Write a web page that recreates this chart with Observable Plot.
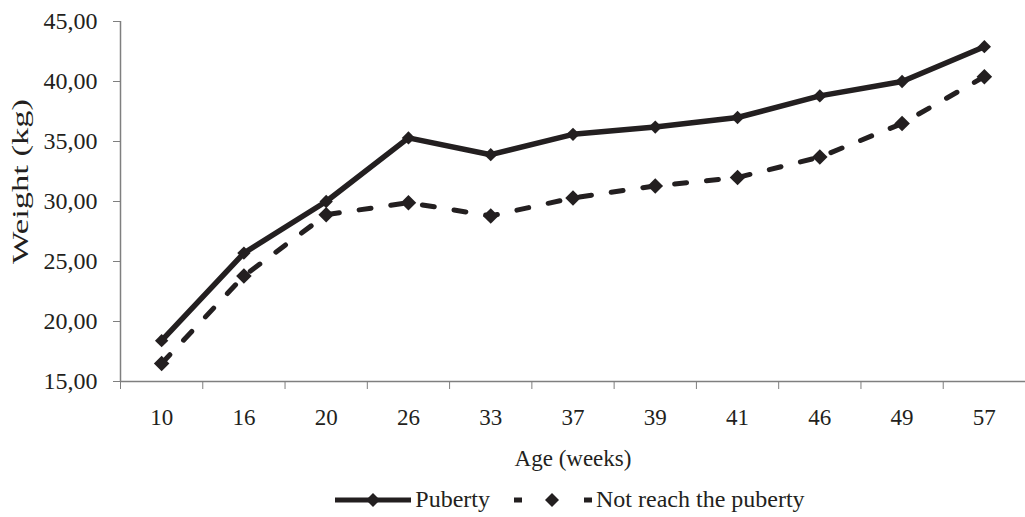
<!DOCTYPE html>
<html>
<head>
<meta charset="utf-8">
<script src="https://cdn.jsdelivr.net/npm/d3@7"></script>
<script src="https://cdn.jsdelivr.net/npm/@observablehq/plot@0.6"></script>
<style>
  body { margin: 0; background: #fff; font-family: "Liberation Serif", "DejaVu Serif", serif; }
  #legend { box-sizing: border-box; display: flex; justify-content: center; align-items: center; height: 37px; padding-top: 2px; font-size: 24px; color: #231f20; padding-left: 115px; }
  #legend .item { display: flex; align-items: center; }
  #legend .item.first { margin-right: 24px; }
  #legend svg { margin-right: 4px; }
</style>
</head>
<body>
<div id="chart"></div>
<div id="legend"></div>
<script>
const ages = ["10", "16", "20", "26", "33", "37", "39", "41", "46", "49", "57"];
const puberty = [18.4, 25.7, 30.0, 35.3, 33.9, 35.6, 36.2, 37.0, 38.8, 40.0, 42.9];
const notReach = [16.5, 23.8, 28.9, 29.9, 28.8, 30.3, 31.3, 32.0, 33.7, 36.5, 40.4];
const yTicks = [15, 20, 25, 30, 35, 40, 45];
const seriesNames = ["Puberty", "Not reach the puberty"];

const ink = "#231f20";
const axisGrey = "#7f7f7f";

const rows = [];
ages.forEach((a, i) => {
  rows.push({series: seriesNames[0], i, age: a, w: puberty[i]});
  rows.push({series: seriesNames[1], i, age: a, w: notReach[i]});
});
const solid = rows.filter(d => d.series === seriesNames[0]);
const dashed = rows.filter(d => d.series === seriesNames[1]);
const boundaries = d3.range(ages.length + 1).map(k => k - 0.5);

const chart = Plot.plot({
  width: 1025,
  height: 480,
  marginLeft: 120,
  marginRight: 0,
  marginTop: 21,
  marginBottom: 99,
  style: {fontFamily: "Liberation Serif, serif", fontSize: "23px", color: ink, background: "#fff"},
  x: {type: "linear", domain: [-0.5, ages.length - 0.5]},
  y: {domain: [15, 45]},
  marks: [
    Plot.axisY({ticks: yTicks, tickFormat: d => d.toFixed(2).replace(".", ","), tickSize: 7, tickPadding: 16, stroke: axisGrey, fontSize: 24,
      label: "Weight (kg)", labelAnchor: "center", labelArrow: "none", labelOffset: 110}),
    Plot.axisX({ticks: d3.range(ages.length), tickFormat: i => ages[i], tickSize: 0, tickPadding: 27, fontSize: 23,
      label: "Age (weeks)", labelAnchor: "center", labelArrow: "none", labelOffset: 84}),
    Plot.axisX({ticks: boundaries, tickFormat: () => "", tickSize: 8, stroke: axisGrey, label: null}),
    Plot.ruleY([15], {stroke: axisGrey, strokeWidth: 1.5}),
    Plot.ruleX([-0.5], {stroke: axisGrey, strokeWidth: 1.5}),
    Plot.line(dashed, {x: "i", y: "w", stroke: ink, strokeWidth: 5, strokeDasharray: "12,20"}),
    Plot.dot(dashed, {x: "i", y: "w", symbol: "diamond2", r: 7, fill: ink}),
    Plot.line(solid, {x: "i", y: "w", stroke: ink, strokeWidth: 5.5}),
    Plot.dot(solid, {x: "i", y: "w", symbol: "diamond2", r: 6, fill: ink})
  ]
});
document.getElementById("chart").appendChild(chart);

// The reference's vertical title is stretched along its length and sits a little above centre
const yLabel = chart.querySelector('[aria-label="y-axis label"] text');
if (yLabel) {
  yLabel.setAttribute("textLength", "165");
  yLabel.setAttribute("lengthAdjust", "spacingAndGlyphs");
  yLabel.setAttribute("dx", "20");
}

// Legend
const legend = document.getElementById("legend");
function swatch(dash) {
  const ns = "http://www.w3.org/2000/svg";
  const svg = document.createElementNS(ns, "svg");
  const w = dash ? 78 : 76;
  svg.setAttribute("width", w);
  svg.setAttribute("height", 16);
  const line = document.createElementNS(ns, "line");
  line.setAttribute("x1", 0); line.setAttribute("x2", w);
  line.setAttribute("y1", 8); line.setAttribute("y2", 8);
  line.setAttribute("stroke", ink); line.setAttribute("stroke-width", 5);
  if (dash) line.setAttribute("stroke-dasharray", "8,62,8");
  svg.appendChild(line);
  const d = document.createElementNS(ns, "path");
  const c = 38;
  d.setAttribute("d", `M${c},1 L${c + 7},8 L${c},15 L${c - 7},8 Z`);
  d.setAttribute("fill", ink);
  svg.appendChild(d);
  return svg;
}
seriesNames.forEach((name, k) => {
  const item = document.createElement("div");
  item.className = "item" + (k === 0 ? " first" : "");
  item.appendChild(swatch(k === 1));
  const t = document.createElement("span");
  t.textContent = name;
  item.appendChild(t);
  legend.appendChild(item);
});
</script>
</body>
</html>
